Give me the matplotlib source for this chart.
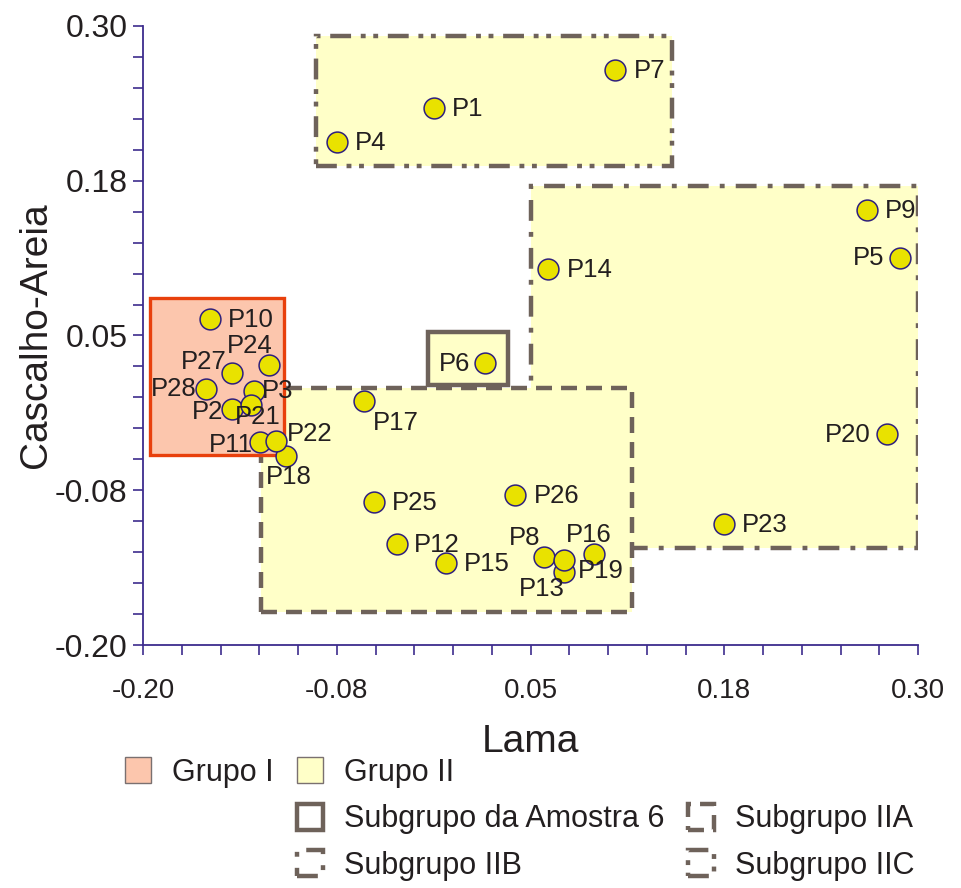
import matplotlib
matplotlib.use("Agg")
import matplotlib.pyplot as plt
from matplotlib.patches import Rectangle, Patch
from matplotlib.ticker import FixedLocator, FixedFormatter

plt.rcParams['font.family'] = ['Liberation Sans', 'DejaVu Sans']
plt.rcParams['lines.scale_dashes'] = False

# --- sample scores -------------------------------------------------------
samples = ['P1', 'P2', 'P3', 'P4', 'P5', 'P6', 'P7', 'P8', 'P9', 'P10',
           'P11', 'P12', 'P13', 'P14', 'P15', 'P16', 'P17', 'P18', 'P19', 'P20',
           'P21', 'P22', 'P23', 'P24', 'P25', 'P26', 'P27', 'P28']
lama = [-0.0125, -0.1427, -0.1285, -0.0750, 0.2884, 0.0204, 0.1048, 0.0590, 0.2671, -0.1568,
        -0.1246, -0.0363, 0.0719, 0.0616, -0.0048, 0.0912, -0.0576, -0.1079, 0.0719, 0.2800,
        -0.1304, -0.1143, 0.1750, -0.1188, -0.0512, 0.0403, -0.1427, -0.1594]
cascalho_areia = [0.2338, -0.0094, 0.0052, 0.2063, 0.1126, 0.0278, 0.2645, -0.1289, 0.1514, 0.0633,
                  -0.0360, -0.1184, -0.1410, 0.1037, -0.1338, -0.1265, -0.0029, -0.0473, -0.1313, -0.0296,
                  -0.0061, -0.0352, -0.1023, 0.0262, -0.0845, -0.0788, 0.0197, 0.0068]

# label placement: offset from the marker in points, horizontal alignment
label_pos = {
    'P1': (13, -1, 'left'), 'P2': (-6, -2, 'right'), 'P3': (6, 0, 'left'),
    'P4': (13, -1, 'left'), 'P5': (-11, 0, 'right'), 'P6': (-10, -1, 'right'),
    'P7': (13, -1, 'left'), 'P8': (-14, 14, 'center'), 'P9': (13, -1, 'left'),
    'P10': (13, -1, 'left'), 'P11': (-5, -2, 'right'), 'P12': (12, -1, 'left'),
    'P13': (-16, -12, 'center'), 'P14': (13, -1, 'left'), 'P15': (13, -1, 'left'),
    'P16': (-4, 14, 'center'), 'P17': (23, -16, 'center'), 'P18': (2, -15, 'center'),
    'P19': (10, -8, 'left'), 'P20': (-12, -1, 'right'), 'P21': (5, -9, 'center'),
    'P22': (8, 5, 'left'), 'P23': (13, -1, 'left'), 'P24': (-14, 14, 'center'),
    'P25': (13, -1, 'left'), 'P26': (13, -1, 'left'), 'P27': (-4, 8, 'right'),
    'P28': (-7, 0, 'right'),
}

# --- group outlines (Lama min, Lama max, Cascalho-Areia min, max) ----------
grupo_I = (-0.1958, -0.1088, -0.0469, 0.0799)
subgrupo_IIA = (-0.1240, 0.1157, -0.1733, 0.0076)
subgrupo_IIB = (0.0506, 0.3000, -0.1216, 0.1708)
subgrupo_IIC = (-0.0885, 0.1415, 0.1869, 0.2920)
subgrupo_6 = (-0.0164, 0.0352, 0.0100, 0.0529)

x_ticks = [-0.20, -0.075, 0.05, 0.175, 0.30]
x_ticklabels = ['-0.20', '-0.08', '0.05', '0.18', '0.30']
y_ticks = [-0.20, -0.075, 0.05, 0.175, 0.30]
y_ticklabels = ['-0.20', '-0.08', '0.05', '0.18', '0.30']
minor_ticks = [-0.20 + 0.025 * i for i in range(21)]

# --- styling -------------------------------------------------------------
AXIS_COLOR = '#3d2c8d'
TEXT_COLOR = '#231f20'
EDGE_GRAY = '#6e625a'
FILL_I = '#fcc6ad'
FILL_II = '#ffffc8'
RED_EDGE = '#e8400c'
LS_IIA = (0, (11.5, 6.5))
LS_IIB = (0, (15, 8, 3.5, 8))
LS_IIC = (0, (15, 7, 3.5, 5.5, 3.5, 7))

fig = plt.figure(figsize=(9.61, 8.88), dpi=100)
ax = fig.add_axes([143 / 961, 1 - 645 / 888, 775 / 961, 619 / 888])
ax.set_xlim(-0.20, 0.30)
ax.set_ylim(-0.20, 0.30)


def box(ext, **kw):
    x0, x1, y0, y1 = ext
    r = Rectangle((x0, y0), x1 - x0, y1 - y0, **kw)
    ax.add_patch(r)
    return r


box(subgrupo_IIC, facecolor=FILL_II, edgecolor=EDGE_GRAY, lw=3.2, ls=LS_IIC, zorder=1)
box(subgrupo_IIB, facecolor=FILL_II, edgecolor=EDGE_GRAY, lw=3.2, ls=LS_IIB, zorder=1)
box(subgrupo_IIA, facecolor=FILL_II, edgecolor=EDGE_GRAY, lw=3.2, ls=LS_IIA, zorder=2)
box(grupo_I, facecolor=FILL_I, edgecolor=RED_EDGE, lw=2.4, zorder=3)
box(subgrupo_6, facecolor=FILL_II, edgecolor=EDGE_GRAY, lw=3.2, zorder=3)

ax.scatter(lama, cascalho_areia, s=15 ** 2, c='#e9e200', edgecolors='#2e1f7e',
           linewidths=1.1, zorder=5, clip_on=False)

for name, xv, yv in zip(samples, lama, cascalho_areia):
    dx, dy, ha = label_pos[name]
    ax.annotate(name, (xv, yv), xytext=(dx, dy), textcoords='offset points',
                ha=ha, va='center', fontsize=18.5, color=TEXT_COLOR, zorder=6)

# axes
for side in ('top', 'right'):
    ax.spines[side].set_visible(False)
for side in ('left', 'bottom'):
    ax.spines[side].set_color(AXIS_COLOR)
    ax.spines[side].set_linewidth(1.3)
    ax.spines[side].set_zorder(7)

ax.xaxis.set_major_locator(FixedLocator(x_ticks))
ax.xaxis.set_major_formatter(FixedFormatter(x_ticklabels))
ax.yaxis.set_major_locator(FixedLocator(y_ticks))
ax.yaxis.set_major_formatter(FixedFormatter(y_ticklabels))
ax.xaxis.set_minor_locator(FixedLocator(minor_ticks))
ax.yaxis.set_minor_locator(FixedLocator(minor_ticks))
ax.tick_params(which='both', direction='out', length=7, width=1.2, color=AXIS_COLOR)
ax.tick_params(axis='x', which='major', labelsize=20, pad=17, labelcolor=TEXT_COLOR)
ax.tick_params(axis='y', which='major', labelsize=23, pad=4, labelcolor=TEXT_COLOR)

ax.set_xlabel('Lama', fontsize=28, color=TEXT_COLOR, labelpad=14)
ax.set_ylabel('Cascalho-Areia', fontsize=28, color=TEXT_COLOR, labelpad=1)

# legend
blank = Patch(facecolor='none', edgecolor='none')
h_I = Patch(facecolor=FILL_I, edgecolor='#7a7070', lw=1.0)
h_II = Patch(facecolor=FILL_II, edgecolor='#7a7070', lw=1.0)
h_6 = Patch(facecolor='white', edgecolor=EDGE_GRAY, lw=3.2)
h_A = Patch(facecolor='white', edgecolor=EDGE_GRAY, lw=3.2, ls=LS_IIA)
h_B = Patch(facecolor='white', edgecolor=EDGE_GRAY, lw=3.2, ls=LS_IIB)
h_C = Patch(facecolor='white', edgecolor=EDGE_GRAY, lw=3.2, ls=LS_IIC)
handles = [h_I, blank, blank, h_II, h_6, h_B, blank, h_A, h_C]
labels = ['Grupo I', '', '', 'Grupo II', 'Subgrupo da Amostra 6', 'Subgrupo IIB',
          '', 'Subgrupo IIA', 'Subgrupo IIC']
leg = fig.legend(handles, labels, ncol=3, loc='upper left',
                 bbox_to_anchor=(125 / 961, 1 - 757 / 888), frameon=False,
                 fontsize=22, handlelength=0.85, handleheight=0.95, handletextpad=0.7,
                 columnspacing=0.75, labelspacing=0.52, borderpad=0, borderaxespad=0)
for t in leg.get_texts():
    t.set_color(TEXT_COLOR)

fig.savefig('out.png', dpi=100)
